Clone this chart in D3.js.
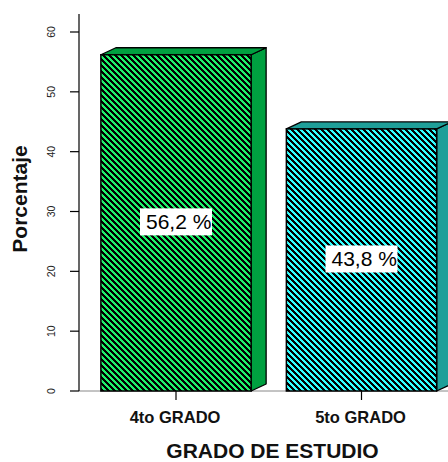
<!DOCTYPE html>
<html>
<head>
<meta charset="utf-8">
<script src="https://cdn.jsdelivr.net/npm/d3@7"></script>
<style>
  html, body { margin: 0; padding: 0; background: #fff; }
  svg { display: block; }
  text { font-family: Arial, "Liberation Sans", sans-serif; }
</style>
</head>
<body>
<svg id="chart" width="448" height="462"></svg>
<script>
const categories = ["4to GRADO", "5to GRADO"];
const values = [56.2, 43.8];
const valueLabels = ["56,2 %", "43,8 %"];
const yTicks = [0, 10, 20, 30, 40, 50, 60];
const frontColors = ["#1ef06a", "#33ffff"];
const sideColors = ["#00a040", "#1f9f99"];
const yTitle = "Porcentaje";
const xTitle = "GRADO DE ESTUDIO";

const svg = d3.select("#chart");
const depthX = 15, depthY = 7;

const y = d3.scaleLinear().domain([0, 60]).range([391, 32]);
const x = d3.scaleBand().domain(categories).range([83.25, 454.25])
  .paddingInner(0.19).paddingOuter(0.095);

// hatch patterns
const defs = svg.append("defs");
frontColors.forEach((c, i) => {
  const p = defs.append("pattern").attr("id", "hatch" + i)
    .attr("patternUnits", "userSpaceOnUse").attr("width", 6).attr("height", 6);
  p.append("rect").attr("width", 6).attr("height", 6).attr("fill", c);
  p.append("path").attr("d", "M-1,-1 L7,7 M-4,2 L2,8 M4,-2 L8,2")
    .attr("stroke", "#000").attr("stroke-width", 1.7).attr("shape-rendering", "crispEdges");
});

// floor line
svg.append("line").attr("x1", 79).attr("x2", 448).attr("y1", y(0)).attr("y2", y(0))
  .attr("stroke", "#888").attr("stroke-width", 1);

// bars
const bars = svg.append("g").selectAll("g").data(categories).join("g");
bars.each(function(cat, i) {
  const g = d3.select(this);
  const x0 = x(cat), x1 = x(cat) + x.bandwidth();
  const yt = y(values[i]), yb = y(0);
  g.append("path")
    .attr("d", `M${x1},${yb} L${x1 + depthX},${yb - depthY} L${x1 + depthX},${yt - depthY} L${x1},${yt} Z`)
    .attr("fill", sideColors[i]).attr("stroke", "#000").attr("stroke-width", 1.3)
    .attr("stroke-linejoin", "round");
  g.append("path")
    .attr("d", `M${x0},${yt} L${x0 + depthX},${yt - depthY} L${x1 + depthX},${yt - depthY} L${x1},${yt} Z`)
    .attr("fill", sideColors[i]).attr("stroke", "#000").attr("stroke-width", 1.3)
    .attr("stroke-linejoin", "round");
  g.append("rect").attr("x", x0).attr("y", yt).attr("width", x1 - x0).attr("height", yb - yt)
    .attr("fill", `url(#hatch${i})`).attr("stroke", "#000").attr("stroke-width", 1.5);
  const cx = x0 + x.bandwidth() / 2;
  const cy = y(values[i] / 2) - 1;
  g.append("rect").attr("x", cx - 36).attr("y", cy - 13.5).attr("width", 72).attr("height", 27)
    .attr("fill", "#fff");
  g.append("text").attr("x", cx - 30).attr("y", cy + 7.5)
    .attr("font-size", 21).attr("fill", "#000").text(valueLabels[i]);
});

// y axis
const yAxis = svg.append("g").attr("transform", "translate(79,0)");
yAxis.append("line").attr("x1", 0).attr("x2", 0).attr("y1", 14).attr("y2", y(0))
  .attr("stroke", "#000").attr("stroke-width", 1.2);
yAxis.selectAll("line.tick").data(yTicks).join("line").attr("class", "tick")
  .attr("x1", -9).attr("x2", 0).attr("y1", d => y(d)).attr("y2", d => y(d))
  .attr("stroke", "#000").attr("stroke-width", 1.2);
yAxis.selectAll("text").data(yTicks).join("text")
  .attr("transform", d => `translate(-24,${y(d)}) rotate(-90)`)
  .attr("text-anchor", "middle").attr("font-size", 10.5).attr("fill", "#222")
  .text(d => d);

// x axis ticks & labels
const xAxis = svg.append("g");
xAxis.selectAll("line").data(categories).join("line")
  .attr("x1", d => x(d) + x.bandwidth() / 2).attr("x2", d => x(d) + x.bandwidth() / 2)
  .attr("y1", y(0)).attr("y2", y(0) + 9).attr("stroke", "#000").attr("stroke-width", 1.2);
xAxis.selectAll("text").data(categories).join("text")
  .attr("x", d => x(d) + x.bandwidth() / 2 - 1).attr("y", 423)
  .attr("text-anchor", "middle").attr("font-size", 16.5).attr("font-weight", "bold")
  .attr("fill", "#111").text(d => d);

// titles
svg.append("text").attr("x", 272.5).attr("y", 458).attr("text-anchor", "middle")
  .attr("font-size", 21).attr("font-weight", "bold").attr("fill", "#111").text(xTitle);
svg.append("text").attr("transform", "translate(27,199) rotate(-90)")
  .attr("text-anchor", "middle").attr("font-size", 21).attr("font-weight", "bold")
  .attr("fill", "#111").text(yTitle);
</script>
</body>
</html>
